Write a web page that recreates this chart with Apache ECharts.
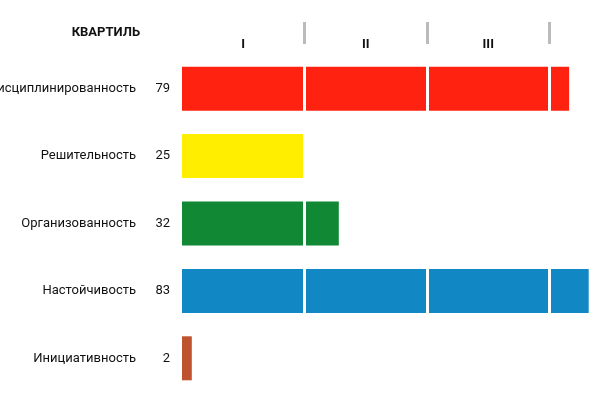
<!DOCTYPE html><html><head><meta charset="utf-8"><script src="https://cdn.jsdelivr.net/npm/echarts@6/dist/echarts.min.js"></script></head><body style="margin:0"><div id="c" style="width:600px;height:400px"></div><script>
const categories=['Дисциплинированность','Решительность','Организованность','Настойчивость','Инициативность'];
const values=[79,25,32,83,2];
const colors=['#ff2211','#ffee00','#118833','#1188c4','#c0532f'];
const quartileTicks=[25,50,75];
const quartileLabelPos=[12.5,37.5,62.5];
const quartileLabels=['I','II','III'];
const ch=echarts.init(document.getElementById('c'));
ch.setOption({
 animation:false,
 textStyle:{fontFamily:'Roboto'},
 graphic:[{type:'text',right:460,top:26,style:{text:'КВАРТИЛЬ',font:'bold 13px Roboto',fill:'#111'}}],
 grid:{left:182,top:55,width:490,height:337,containLabel:false,outerBoundsMode:'none'},
 xAxis:[{type:'value',min:0,max:100,splitLine:{show:false},axisLine:{show:false},axisTick:{show:false},axisLabel:{show:false}},
 {type:'value',position:'top',min:0,max:100,offset:11,splitLine:{show:false},axisLine:{show:false},
  axisTick:{show:true,customValues:quartileTicks,length:22,lineStyle:{color:'#bbb',width:3}},
  axisLabel:{show:true,customValues:quartileLabelPos,margin:-7,fontWeight:'bold',fontSize:13,color:'#111',
   formatter:v=>quartileLabels[quartileLabelPos.indexOf(v)]||''}}],
 yAxis:{type:'category',inverse:true,data:categories,axisLine:{show:false},axisTick:{show:false},
  axisLabel:{margin:12,formatter:(n,i)=>'{n|'+n+'}{v|'+values[i]+'}',
   rich:{n:{fontSize:13,color:'#111',align:'right'},v:{fontSize:13,color:'#111',width:34,align:'right'}}}},
 series:[{type:'bar',data:values.map((v,i)=>({value:v,itemStyle:{color:colors[i]}})),barWidth:44,
  markLine:{silent:true,symbol:'none',label:{show:false},lineStyle:{color:'#fff',width:3,type:'solid'},
   data:quartileTicks.map(x=>({xAxis:x}))}}]
});
</script></body></html>
